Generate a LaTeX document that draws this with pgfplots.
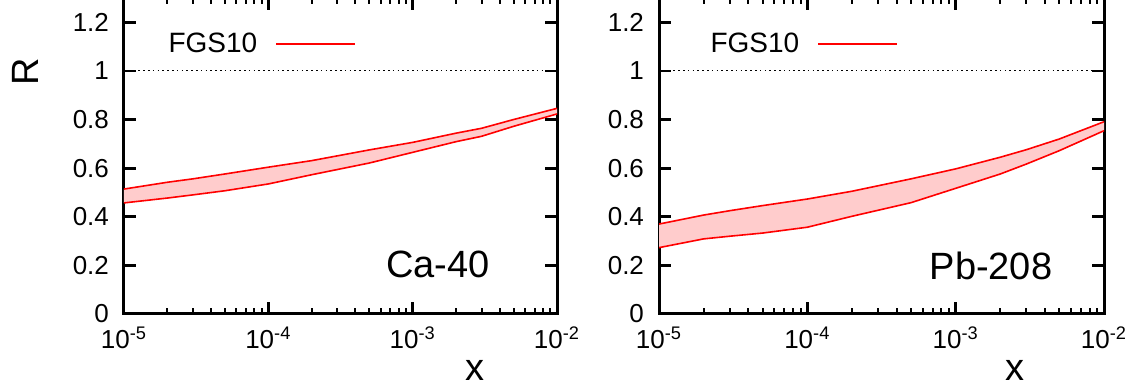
\documentclass[border=0pt]{standalone}
\usepackage{fontspec}
\setmainfont{Liberation Sans}
\usepackage{pgfplots}
\usepackage{pgfplotstable}
\pgfplotsset{compat=1.18}
\usepgfplotslibrary{fillbetween}
\newcommand{\tl}{\fontsize{13}{15}\selectfont}

\pgfplotstableread{
x up lo
1e-5 0.514 0.457
2e-5 0.542 0.477
3e-5 0.556 0.490
5e-5 0.576 0.507
1e-4 0.604 0.535
2e-4 0.631 0.573
5e-4 0.675 0.621
1e-3 0.706 0.665
2e-3 0.744 0.709
3e-3 0.764 0.731
5e-3 0.800 0.772
1e-2 0.846 0.823
}\ca

\pgfplotstableread{
x up lo
1e-5 0.370 0.273
2e-5 0.407 0.309
3e-5 0.425 0.320
5e-5 0.446 0.333
1e-4 0.473 0.357
2e-4 0.505 0.402
5e-4 0.556 0.458
1e-3 0.597 0.517
2e-3 0.645 0.576
3e-3 0.676 0.617
5e-3 0.720 0.672
1e-2 0.791 0.754
}\pb

\pgfplotsset{
  legend image code/.code={\draw[#1] (0pt,0pt) -- (39.5pt,0pt);},
}

\begin{document}
\begin{tikzpicture}
\begin{axis}[xmode=log, width=216.5pt, at={(0pt,0pt)}, anchor=south west,
  scale only axis, height=158pt,
  xmin=1e-5, xmax=1e-2, ymin=0, ymax=1.3,
  xtick={1e-5,1e-4,1e-3,1e-2},
  xticklabels={10\textsuperscript{-5},10\textsuperscript{-4},10\textsuperscript{-3},10\textsuperscript{-2}},
  ytick={0,0.2,0.4,0.6,0.8,1,1.2},
  yticklabels={0,0.2,0.4,0.6,0.8,1,1.2},
  tick align=inside,
  major tick length=6pt, minor tick length=3pt,
  axis line style={line width=1.5pt},
  major tick style={black, line width=1.4pt},
  minor tick style={black, line width=1pt},
  tick label style={font=\tl},
  yticklabel style={font=\tl, xshift=-4pt},
  xticklabel style={font=\tl, yshift=-3pt},
  legend plot pos=right,
  legend style={draw=none, fill=none, anchor=west, font=\fontsize{14}{16}\selectfont,
    column sep=9pt, inner sep=0pt, nodes={inner sep=0pt}, at={(rel axis cs:0.102,0.854)}},
  xlabel={x}, ylabel={R},
  xlabel style={font=\fontsize{19}{22}\selectfont, at={(rel axis cs:0.81,-0.18)}, anchor=center},
  ylabel style={font=\fontsize{19}{22}\selectfont, at={(rel axis cs:-0.2286,0.766)}, anchor=center}]
\addplot[name path=up, draw=none, forget plot] table[x=x,y=up]{\ca};
\addplot[name path=lo, draw=none, forget plot] table[x=x,y=lo]{\ca};
\addplot[fill=red!20, draw=none, forget plot] fill between[of=up and lo];
\addplot[black, line width=0.5pt, dash pattern=on 0.8pt off 1.6pt, forget plot] coordinates {(1e-5,1) (1e-2,1)};
\addplot[red, line width=0.8pt] table[x=x,y=up]{\ca};
\addlegendentry{FGS10}
\addplot[red, line width=0.8pt, forget plot] table[x=x,y=lo]{\ca};
\node[font=\fontsize{19}{22}\selectfont] at (rel axis cs:0.725,0.158) {Ca-40};
\end{axis}
\begin{axis}[xmode=log, width=222.5pt, at={(267.5pt,0pt)}, anchor=south west,
  scale only axis, height=158pt,
  xmin=1e-5, xmax=1e-2, ymin=0, ymax=1.3,
  xtick={1e-5,1e-4,1e-3,1e-2},
  xticklabels={10\textsuperscript{-5},10\textsuperscript{-4},10\textsuperscript{-3},10\textsuperscript{-2}},
  ytick={0,0.2,0.4,0.6,0.8,1,1.2},
  yticklabels={0,0.2,0.4,0.6,0.8,1,1.2},
  tick align=inside,
  major tick length=6pt, minor tick length=3pt,
  axis line style={line width=1.5pt},
  major tick style={black, line width=1.4pt},
  minor tick style={black, line width=1pt},
  tick label style={font=\tl},
  yticklabel style={font=\tl, xshift=-4pt},
  xticklabel style={font=\tl, yshift=-3pt},
  legend plot pos=right,
  legend style={draw=none, fill=none, anchor=west, font=\fontsize{14}{16}\selectfont,
    column sep=9pt, inner sep=0pt, nodes={inner sep=0pt}, at={(rel axis cs:0.115,0.854)}},
  xlabel={x},
  xlabel style={font=\fontsize{19}{22}\selectfont, at={(rel axis cs:0.80,-0.18)}, anchor=center}]
\addplot[name path=up, draw=none, forget plot] table[x=x,y=up]{\pb};
\addplot[name path=lo, draw=none, forget plot] table[x=x,y=lo]{\pb};
\addplot[fill=red!20, draw=none, forget plot] fill between[of=up and lo];
\addplot[black, line width=0.5pt, dash pattern=on 0.8pt off 1.6pt, forget plot] coordinates {(1e-5,1) (1e-2,1)};
\addplot[red, line width=0.8pt] table[x=x,y=up]{\pb};
\addlegendentry{FGS10}
\addplot[red, line width=0.8pt, forget plot] table[x=x,y=lo]{\pb};
\node[font=\fontsize{19}{22}\selectfont] at (rel axis cs:0.746,0.152) {Pb-208};
\end{axis}
\pgfresetboundingbox
\useasboundingbox (-62pt,-38.5pt) rectangle (505.5pt,157pt);
\end{tikzpicture}
\end{document}
